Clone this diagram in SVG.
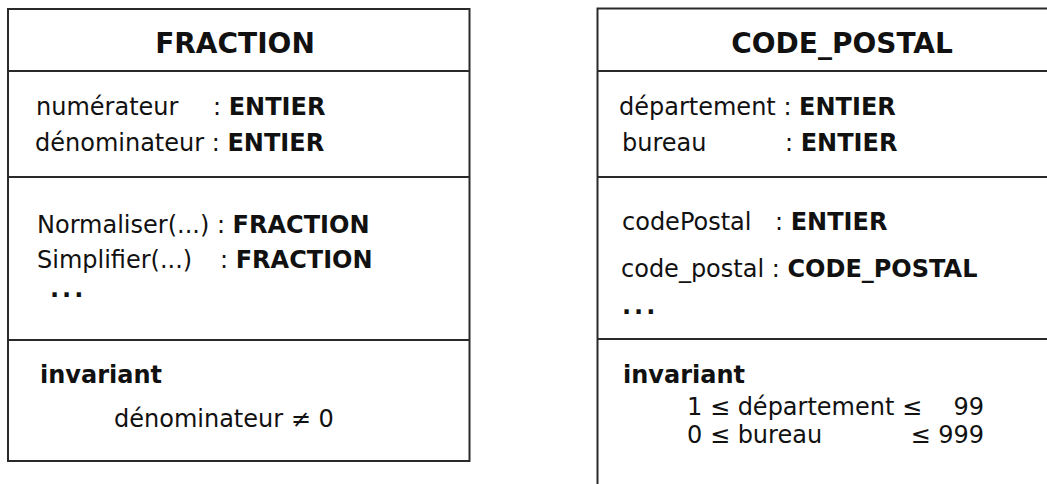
<svg xmlns="http://www.w3.org/2000/svg" width="1047" height="484" viewBox="0 0 1047 484">
  <style>
    text { font-family: "DejaVu Sans", "Liberation Sans", sans-serif; font-size: 24px; fill: #111; }
    .title { font-size: 28px; font-weight: bold; text-anchor: middle; }
    .b { font-weight: bold; }
    .box { fill: #fff; stroke: #2a2a2a; stroke-width: 2; }
    .sep { stroke: #2a2a2a; stroke-width: 2; }
    .dots { font-weight: bold; letter-spacing: 3px; }
  </style>
  <rect width="1047" height="484" fill="#fff"/>

  <!-- Class FRACTION -->
  <g id="fraction">
    <rect class="box" x="8" y="9" width="461.5" height="452"/>
    <line class="sep" x1="8" y1="71" x2="469.5" y2="71"/>
    <line class="sep" x1="8" y1="177" x2="469.5" y2="177"/>
    <line class="sep" x1="8" y1="340" x2="469.5" y2="340"/>
    <text class="title" x="235" y="53">FRACTION</text>
    <text x="36" y="115">numérateur</text>
    <text x="213" y="115">: <tspan class="b">ENTIER</tspan></text>
    <text x="35" y="151">dénominateur : <tspan class="b">ENTIER</tspan></text>
    <text x="37" y="233">Normaliser(...) : <tspan class="b">FRACTION</tspan></text>
    <text x="37" y="268">Simplifier(...)</text>
    <text x="220" y="268">: <tspan class="b">FRACTION</tspan></text>
    <text class="dots" x="50" y="297">...</text>
    <text class="b" x="40" y="383">invariant</text>
    <text x="114" y="427">dénominateur ≠ 0</text>
  </g>

  <!-- Class CODE_POSTAL (extends past the right and bottom edges) -->
  <g id="code_postal">
    <rect class="box" x="597.5" y="8.5" width="500" height="520"/>
    <line class="sep" x1="597.5" y1="71" x2="1047" y2="71"/>
    <line class="sep" x1="597.5" y1="177" x2="1047" y2="177"/>
    <line class="sep" x1="597.5" y1="339" x2="1047" y2="339"/>
    <text class="title" x="842" y="53">CODE_POSTAL</text>
    <text x="619" y="115">département : <tspan class="b">ENTIER</tspan></text>
    <text x="622" y="151">bureau</text>
    <text x="785" y="151">: <tspan class="b">ENTIER</tspan></text>
    <text x="622" y="230">codePostal</text>
    <text x="775" y="230">: <tspan class="b">ENTIER</tspan></text>
    <text x="621" y="277">code_postal : <tspan class="b">CODE_POSTAL</tspan></text>
    <text class="dots" x="622" y="314">...</text>
    <text class="b" x="623" y="383">invariant</text>
    <text x="687" y="415">1 ≤ département ≤</text>
    <text x="984" y="415" text-anchor="end">99</text>
    <text x="687" y="443">0 ≤ bureau</text>
    <text x="984" y="443" text-anchor="end">≤ 999</text>
  </g>
</svg>
